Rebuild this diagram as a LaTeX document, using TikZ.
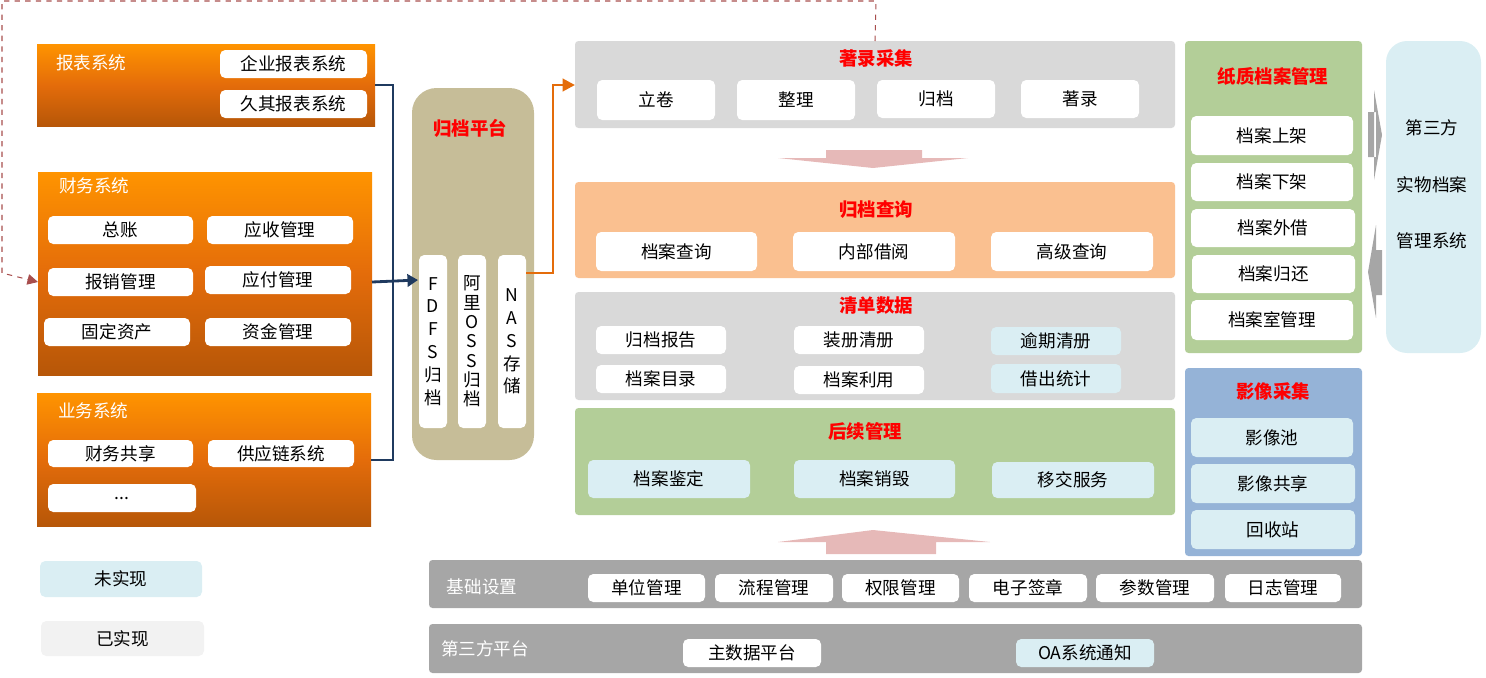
\documentclass[tikz,border=0pt]{standalone}
\usepackage{fontspec}
\setmainfont{Noto Sans CJK SC}
\usetikzlibrary{arrows.meta,positioning}
\definecolor{navy}{HTML}{1F3A5F}
\definecolor{orng}{HTML}{E46C0A}
\definecolor{lgray}{HTML}{D9D9D9}
\definecolor{dgray}{HTML}{A6A6A6}
\definecolor{peach}{HTML}{FAC090}
\definecolor{sage}{HTML}{B3CE98}
\definecolor{khaki}{HTML}{C6BD98}
\definecolor{ice}{HTML}{DAEEF3}
\definecolor{steel}{HTML}{95B3D7}
\definecolor{pinkar}{HTML}{E6B9B8}
\newcommand\rbox[7]{%
  \node[#1,minimum width={(#5-#3)*0.02cm},minimum height={(#6-#4)*0.02cm}] (#2)
    at ({(#3+#5)/2},{(#4+#6)/2}) {#7};}
\begin{document}
\begin{tikzpicture}[
  x=0.02cm,y=-0.02cm,
  font=\fontsize{10}{12}\selectfont,
  base/.style={inner sep=0pt,outer sep=0pt,align=center},
  wbox/.style={base,fill=white,rounded corners=3pt},
  ibox/.style={base,fill=ice,rounded corners=3pt},
  panel/.style={base,rounded corners=2pt},
  sysbox/.style={base,top color=orange!55!yellow!80!red,bottom color=orng!80!black,middle color=orng},
  ttl/.style={text=red,font=\fontsize{10.5}{12}\selectfont\bfseries},
  wtl/.style={text=white},
  arr/.style={-{Triangle[length=6pt,width=7pt]},line width=1.6pt}
]
\useasboundingbox (0,0) rectangle (1486,677);
% source systems
\rbox{sysbox}{rep}{37}{44}{375}{126}{}
\node[wtl,anchor=west] (rept) at (50,63) {报表系统};
\rbox{wbox}{qy}{220}{50}{367}{78}{企业报表系统}
\rbox{wbox}{jq}{220}{90}{367}{118}{久其报表系统}
\rbox{sysbox}{fin}{38}{172}{372}{375}{}
\node[wtl,anchor=west] (fint) at (53,186) {财务系统};
\rbox{wbox}{zz}{48}{216}{193}{244}{总账}
\rbox{wbox}{ys}{207}{216}{353}{244}{应收管理}
\rbox{wbox}{bx}{48}{268}{193}{296}{报销管理}
\rbox{wbox}{yf}{205}{266}{351}{294}{应付管理}
\rbox{wbox}{gd}{44}{318}{190}{346}{固定资产}
\rbox{wbox}{zj}{205}{318}{351}{346}{资金管理}
\rbox{sysbox}{biz}{37}{393}{371}{526}{}
\node[wtl,anchor=west] (bizt) at (52,411) {业务系统};
\rbox{wbox}{gx}{48}{440}{193}{467}{财务共享}
\rbox{wbox}{gyl}{208}{440}{354}{467}{供应链系统}
\rbox{wbox}{etc}{48}{484}{196}{512}{...}
% archive platform
\rbox{base,fill=khaki,rounded corners=14pt}{plat}{412}{88}{534}{460}{}
\node[ttl] (platt) at (470,128) {归档平台};
\rbox{wbox}{fdfs}{419}{255}{447}{428}{F\\[1pt]D\\[1pt]F\\[1pt]S\\[1pt]归\\[1pt]档}
\rbox{wbox}{oss}{458}{255}{486}{428}{阿\\[-1pt]里\\[-1pt]O\\[-1pt]S\\[-1pt]S\\[-1pt]归\\[-1pt]档}
\rbox{wbox}{nas}{498}{255}{526}{428}{N\\[1pt]A\\[1pt]S\\[1pt]存\\[1pt]储}
\coordinate (j1) at (393,85);
\coordinate (j2) at (393,460);
\draw[navy,line width=1.6pt] (rep.east|-j1) -- (j1) -- (j2) -- (biz.east|-j2);
\draw[navy,arr] (fin.east|-bx) -- (418,280);
% collection etc.
\rbox{panel,fill=lgray}{zl}{575}{41}{1175}{128}{}
\node[ttl] (zlt) at (876,58) {著录采集};
\rbox{wbox}{lj}{597}{80}{715}{120}{立卷}
\rbox{wbox}{zhl}{737}{80}{855}{120}{整理}
\rbox{wbox}{gdg}{877}{80}{995}{118}{归档}
\rbox{wbox}{zlu}{1021}{80}{1139}{118}{著录}
\coordinate (o1) at (553,273);
\coordinate (o2) at (553,85);
\draw[orng,line width=1.6pt,-{Triangle[length=7pt,width=7pt]}] (nas.east|-o1) -- (o1) -- (o2) -- (zl.west|-o2);
\draw[pinkar!80!black,dashed,line width=0.6pt,-{Triangle[length=6pt,width=6pt]},draw=pinkar!60!red!70!black]
  (zl.north) -- (876,1) -- (2,1) -- (2,273) -- (fin.west|-bx);
\fill[pinkar] (826,150) rectangle (922,158) (778,158) -- (968,158) -- (873,168) -- cycle;
\rbox{panel,fill=peach}{cx}{575}{182}{1175}{278}{}
\node[ttl] (cxt) at (876,210) {归档查询};
\rbox{wbox}{dacx}{596}{232}{757}{271}{档案查询}
\rbox{wbox}{nbjy}{793}{232}{955}{271}{内部借阅}
\rbox{wbox}{gjcx}{991}{232}{1153}{271}{高级查询}
\rbox{panel,fill=lgray}{qd}{575}{292}{1175}{400}{}
\node[ttl] (qdt) at (876,306) {清单数据};
\rbox{wbox}{gdbg}{596}{326}{726}{354}{归档报告}
\rbox{wbox}{zcqc}{794}{326}{924}{354}{装册清册}
\rbox{ibox}{yqqc}{991}{327}{1121}{355}{逾期清册}
\rbox{wbox}{damu}{596}{365}{726}{393}{档案目录}
\rbox{wbox}{daly}{794}{366}{924}{394}{档案利用}
\rbox{ibox}{jctj}{991}{364}{1121}{393}{借出统计}
\rbox{panel,fill=sage}{hx}{575}{408}{1175}{515}{}
\node[ttl] (hxt) at (865,431) {后续管理};
\rbox{ibox}{jd}{588}{460}{750}{498}{档案鉴定}
\rbox{ibox}{xh}{794}{460}{955}{498}{档案销毁}
\rbox{ibox}{yj}{992}{462}{1154}{498}{移交服务}
\fill[pinkar] (826,542) rectangle (936,554) (778,542) -- (990,542) -- (873,530) -- cycle;
% paper archives
\rbox{panel,fill=sage}{zz2}{1185}{41}{1362}{353}{}
\node[ttl] (zzt) at (1273,76) {纸质档案管理};
\rbox{wbox}{sj}{1191}{116}{1353}{155}{档案上架}
\rbox{wbox}{xj}{1191}{163}{1353}{201}{档案下架}
\rbox{wbox}{wj}{1191}{209}{1355}{247}{档案外借}
\rbox{wbox}{gh}{1192}{255}{1355}{293}{档案归还}
\rbox{wbox}{dsg}{1191}{300}{1353}{340}{档案室管理}
\fill[dgray] (1368,112) rectangle (1376,157) (1374,90) -- (1382,135) -- (1374,180) -- cycle;
\fill[dgray] (1374,250) rectangle (1382,295) (1376,225) -- (1368,272) -- (1376,318) -- cycle;
\rbox{base,fill=ice,rounded corners=12pt}{dsf}{1386}{41}{1481}{353}{}
\node (dsf1) at (1432,128) {第三方};
\node (dsf2) at (1432,185) {实物档案};
\node (dsf3) at (1432,241) {管理系统};
\rbox{panel,fill=steel}{yx}{1185}{368}{1362}{556}{}
\node[ttl] (yxt) at (1273,391) {影像采集};
\rbox{ibox}{yxc}{1191}{418}{1353}{457}{影像池}
\rbox{ibox}{yxgx}{1191}{464}{1355}{503}{影像共享}
\rbox{ibox}{hsz}{1191}{510}{1355}{549}{回收站}
% base layers
\rbox{panel,fill=dgray}{jc}{429}{560}{1362}{608}{}
\node[wtl] (jct) at (482,587) {基础设置};
\rbox{wbox}{dw}{588}{574}{705}{602}{单位管理}
\rbox{wbox}{lc}{715}{574}{833}{602}{流程管理}
\rbox{wbox}{qx}{842}{574}{959}{602}{权限管理}
\rbox{wbox}{dz}{969}{574}{1087}{602}{电子签章}
\rbox{wbox}{cs}{1096}{574}{1214}{602}{参数管理}
\rbox{wbox}{rz}{1225}{574}{1341}{602}{日志管理}
\rbox{panel,fill=dgray}{sf}{429}{624}{1362}{673}{}
\node[wtl] (sft) at (485,649) {第三方平台};
\rbox{wbox}{zsj}{683}{639}{821}{667}{主数据平台}
\rbox{ibox}{oa}{1016}{639}{1154}{667}{OA系统通知}
% legend
\rbox{ibox}{wsx}{40}{561}{202}{597}{未实现}
\rbox{base,fill=black!5,rounded corners=3pt}{ysx}{41}{621}{204}{656}{已实现}
\end{tikzpicture}
\end{document}
